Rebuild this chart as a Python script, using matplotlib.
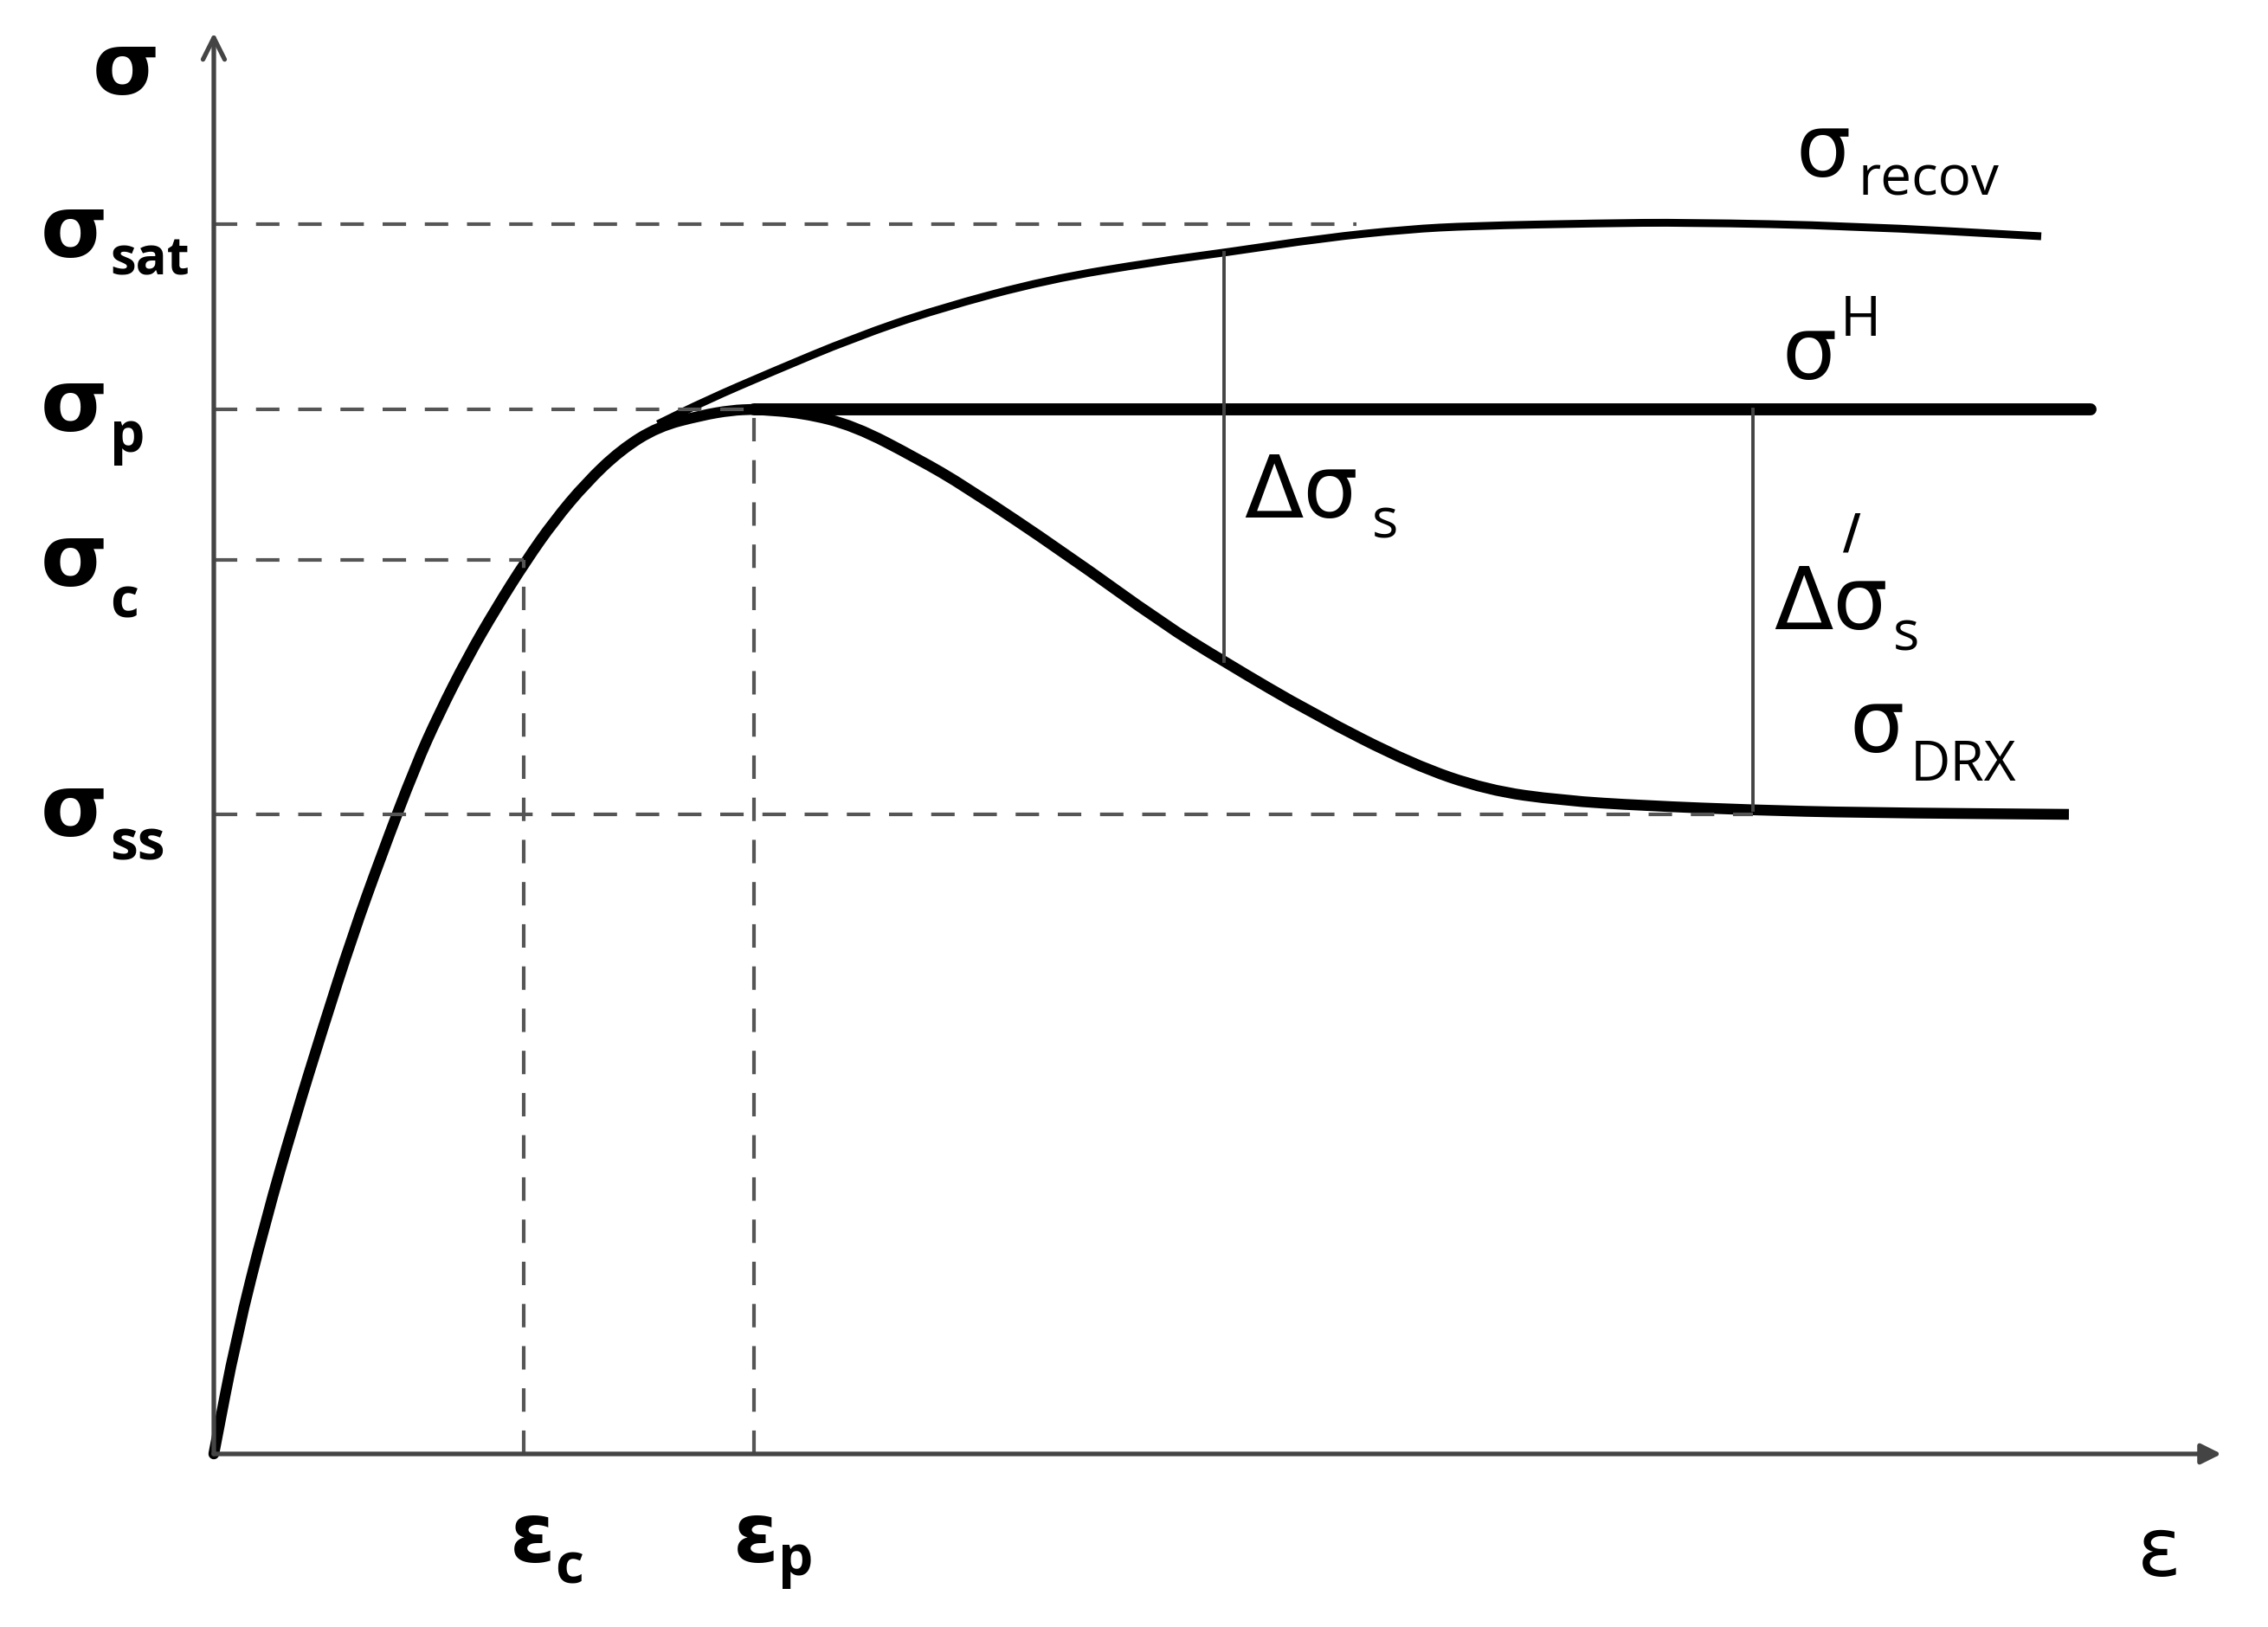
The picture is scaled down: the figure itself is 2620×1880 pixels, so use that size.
import numpy as np
import matplotlib.pyplot as plt
from matplotlib.path import Path
from matplotlib.patches import PathPatch

plt.rcParams['font.family'] = ['DejaVu Sans']

# characteristic points (strain, stress) in arbitrary units
eps_c, eps_p = 358, 624
sig_sat, sig_p, sig_c, sig_ss = 1421, 1207, 1033, 739

# work hardening branch up to the peak
hard_eps = [0, 26, 60, 93, 126, 160, 193, 233, 260, 293, 326, 360, 393, 430, 470, 513, 563, 598, 624]
hard_sig = [0, 135, 270, 385, 492, 598, 690, 795, 855, 920, 977, 1031, 1078, 1122, 1160, 1187, 1200, 1206, 1207]

# recovery only curve
rec_eps = [513, 568, 644, 740, 836, 963, 1091, 1167, 1282, 1378, 1453, 1600, 1701, 1893, 2111]
rec_sig = [1190, 1217, 1250, 1290, 1323, 1357, 1378, 1388, 1405, 1415, 1419, 1422, 1423, 1419, 1407]

# curve with dynamic recrystallization
drx_eps = [624, 680, 740, 813, 868, 983, 1097, 1166, 1270, 1384, 1471, 1557, 1653, 1778, 1900, 2143]
drx_sig = [1207, 1203, 1188, 1150, 1118, 1041, 959, 916, 855, 797, 767, 755, 749, 744, 741, 739]

# hardening plateau sigma^H
sigH_end = 2168

# stress drop markers
ds_eps, ds_top, ds_bot = 1167, 1388, 916
ds2_eps, ds2_top, ds2_bot = 1778, 1207, 744

fig = plt.figure(figsize=(26.2, 18.8), dpi=100)
ax = fig.add_axes([0, 0, 1, 1])
ax.set_xlim(-247, 2373)
ax.set_ylim(-200, 1680)
ax.axis('off')

axc = '#444444'
dash = dict(color='#555555', lw=3, dashes=(6.5, 5.2))


def smooth_curve(xs, ys, lw, cap='butt'):
    # quadratic bezier chain through the midpoints of the read points
    pts = np.column_stack([xs, ys]).astype(float)
    mids = (pts[:-1] + pts[1:]) / 2
    verts = [pts[0], mids[0]]
    codes = [Path.MOVETO, Path.LINETO]
    for i in range(1, len(pts) - 1):
        verts += [pts[i], mids[i]]
        codes += [Path.CURVE3, Path.CURVE3]
    verts.append(pts[-1])
    codes.append(Path.LINETO)
    ax.add_patch(PathPatch(Path(verts, codes), fill=False, lw=lw, edgecolor='black',
                           capstyle=cap, joinstyle='round'))


# guide lines
ax.plot([0, 1320], [sig_sat, sig_sat], **dash)
ax.plot([0, eps_p], [sig_p, sig_p], **dash)
ax.plot([0, eps_c], [sig_c, sig_c], **dash)
ax.plot([0, ds2_eps], [sig_ss, sig_ss], **dash)
ax.plot([eps_c, eps_c], [0, sig_c], **dash)
ax.plot([eps_p, eps_p], [0, sig_p], **dash)

# axes with arrows
ax.annotate('', xy=(0, 1645), xytext=(0, -3),
            arrowprops=dict(arrowstyle='->', lw=3.8, color=axc, mutation_scale=45))
ax.annotate('', xy=(2322, 0), xytext=(-3, 0),
            arrowprops=dict(arrowstyle='-|>', lw=3.8, color=axc, mutation_scale=35))

# curves
smooth_curve(rec_eps, rec_sig, 6.5)
smooth_curve(hard_eps, hard_sig, 9, cap='round')
smooth_curve(drx_eps, drx_sig, 9)
ax.plot([eps_p, sigH_end], [sig_p, sig_p], color='black', lw=10, solid_capstyle='round')

# stress drops
ax.plot([ds_eps, ds_eps], [ds_bot, ds_top], color=axc, lw=2.8)
ax.plot([ds2_eps, ds2_eps], [ds2_bot, ds2_top], color=axc, lw=2.8)


def label(x, y, main, sub, xs, ys, bold=False, size=72, subsize=46):
    w = 'bold' if bold else 'normal'
    ax.text(x, y, main, fontsize=size, fontweight=w, ha='left', va='baseline')
    ax.text(xs, ys, sub, fontsize=subsize, fontweight=w, family='Open Sans',
            ha='left', va='baseline')


ax.text(-140, 1571, 'σ', fontsize=72, fontweight='bold', ha='left', va='baseline')
label(-200, 1383, 'σ', 'sat', -120, 1363, bold=True, subsize=43)
label(-200, 1182, 'σ', 'p', -120, 1158, bold=True)
label(-200, 1003, 'σ', 'c', -120, 966, bold=True)
label(-200, 714, 'σ', 'ss', -120, 686, bold=True)

label(1828, 1476, 'σ', 'recov', 1900, 1454)
label(1812, 1242, 'σ', 'H', 1879, 1292)
label(1190, 1082, 'Δσ', 's', 1338, 1058)
label(1802, 953, 'Δσ', 's', 1940, 928)
ax.text(1892, 1062, '/', fontsize=40, fontweight='bold', ha='center', va='center')
label(1890, 811, 'σ', 'DRX', 1960, 778)

label(342, -125, 'ε', 'c', 394, -150, bold=True, size=68)
label(600, -125, 'ε', 'p', 652, -140, bold=True, size=68)
ax.text(2222, -141, 'ε', fontsize=68, ha='left', va='baseline')

fig.savefig('out.png', dpi=100, facecolor='white')
